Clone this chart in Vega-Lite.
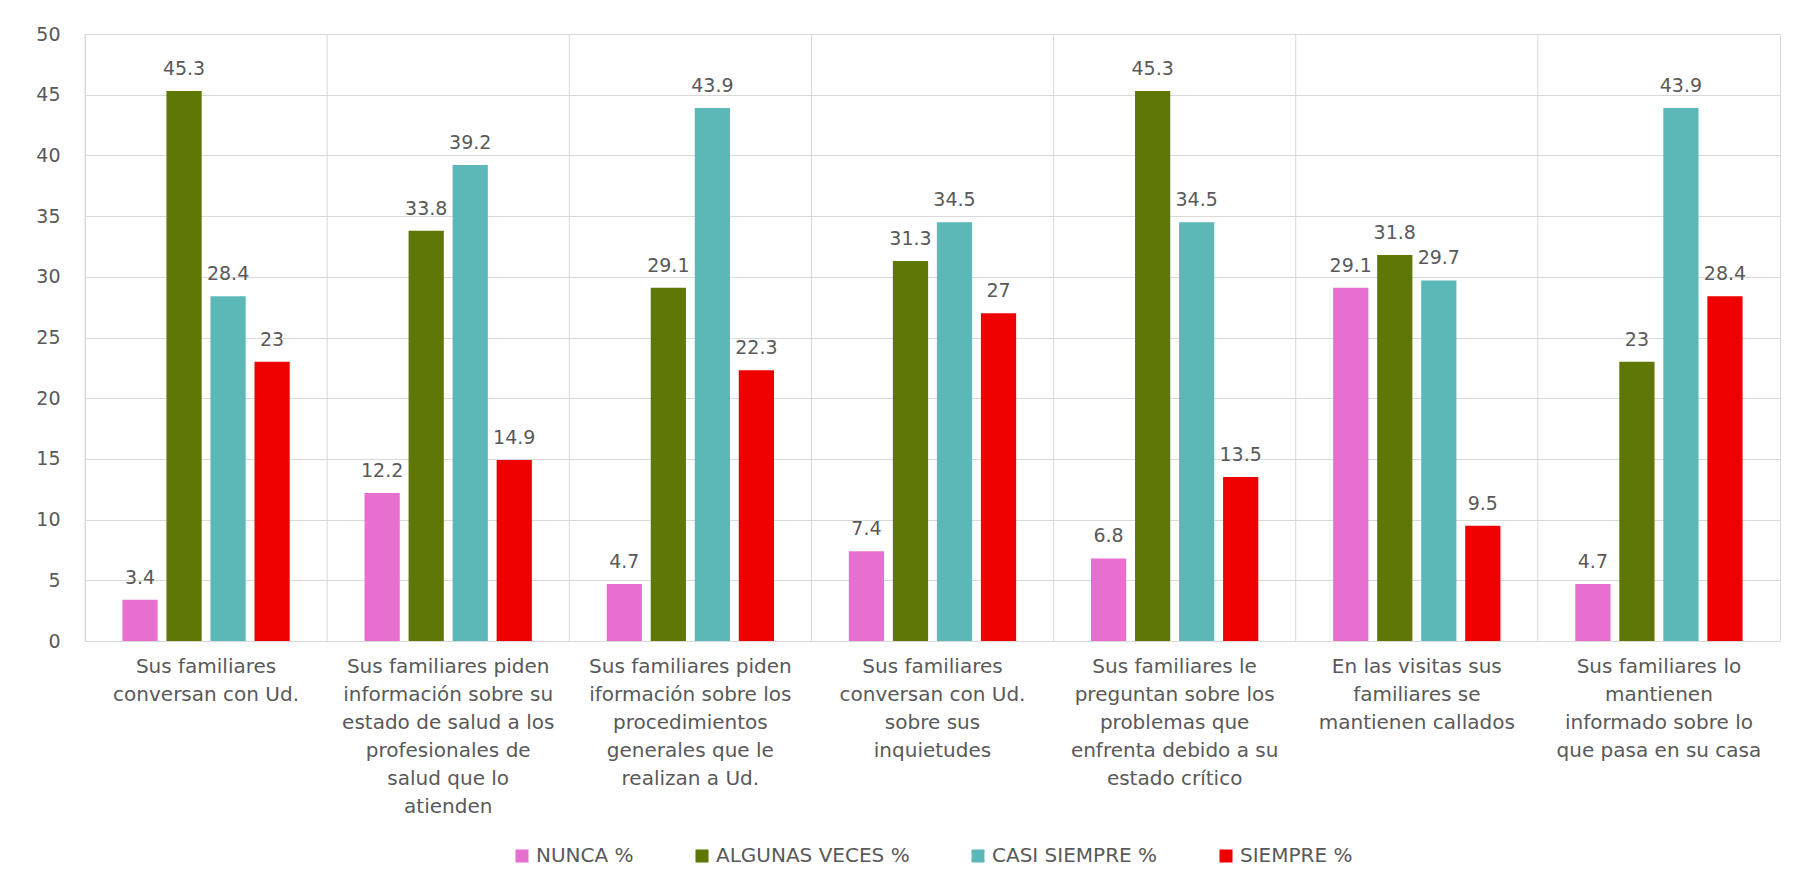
{
  "$schema": "https://vega.github.io/schema/vega-lite/v6.json",
  "width": 1695,
  "height": 607,
  "autosize": {"type": "none"},
  "padding": {"left": 85, "top": 34, "right": 31, "bottom": 247},
  "background": "white",
  "config": {
    "font": "DejaVu Sans",
    "view": {"stroke": "#d9d9d9", "strokeWidth": 1},
    "legend": {"layout": {"bottom": {"anchor": "middle"}}}
  },
  "data": {
    "values": [
      {"pregunta": "Sus familiares|conversan con Ud.", "serie": "NUNCA %", "valor": 3.4},
      {"pregunta": "Sus familiares|conversan con Ud.", "serie": "ALGUNAS VECES %", "valor": 45.3},
      {"pregunta": "Sus familiares|conversan con Ud.", "serie": "CASI SIEMPRE %", "valor": 28.4},
      {"pregunta": "Sus familiares|conversan con Ud.", "serie": "SIEMPRE %", "valor": 23},
      {"pregunta": "Sus familiares piden|información sobre su|estado de salud a los|profesionales de|salud que lo|atienden", "serie": "NUNCA %", "valor": 12.2},
      {"pregunta": "Sus familiares piden|información sobre su|estado de salud a los|profesionales de|salud que lo|atienden", "serie": "ALGUNAS VECES %", "valor": 33.8},
      {"pregunta": "Sus familiares piden|información sobre su|estado de salud a los|profesionales de|salud que lo|atienden", "serie": "CASI SIEMPRE %", "valor": 39.2},
      {"pregunta": "Sus familiares piden|información sobre su|estado de salud a los|profesionales de|salud que lo|atienden", "serie": "SIEMPRE %", "valor": 14.9},
      {"pregunta": "Sus familiares piden|iformación sobre los|procedimientos|generales que le|realizan a Ud.", "serie": "NUNCA %", "valor": 4.7},
      {"pregunta": "Sus familiares piden|iformación sobre los|procedimientos|generales que le|realizan a Ud.", "serie": "ALGUNAS VECES %", "valor": 29.1},
      {"pregunta": "Sus familiares piden|iformación sobre los|procedimientos|generales que le|realizan a Ud.", "serie": "CASI SIEMPRE %", "valor": 43.9},
      {"pregunta": "Sus familiares piden|iformación sobre los|procedimientos|generales que le|realizan a Ud.", "serie": "SIEMPRE %", "valor": 22.3},
      {"pregunta": "Sus familiares|conversan con Ud.|sobre sus|inquietudes", "serie": "NUNCA %", "valor": 7.4},
      {"pregunta": "Sus familiares|conversan con Ud.|sobre sus|inquietudes", "serie": "ALGUNAS VECES %", "valor": 31.3},
      {"pregunta": "Sus familiares|conversan con Ud.|sobre sus|inquietudes", "serie": "CASI SIEMPRE %", "valor": 34.5},
      {"pregunta": "Sus familiares|conversan con Ud.|sobre sus|inquietudes", "serie": "SIEMPRE %", "valor": 27},
      {"pregunta": "Sus familiares le|preguntan sobre los|problemas que|enfrenta debido a su|estado crítico", "serie": "NUNCA %", "valor": 6.8},
      {"pregunta": "Sus familiares le|preguntan sobre los|problemas que|enfrenta debido a su|estado crítico", "serie": "ALGUNAS VECES %", "valor": 45.3},
      {"pregunta": "Sus familiares le|preguntan sobre los|problemas que|enfrenta debido a su|estado crítico", "serie": "CASI SIEMPRE %", "valor": 34.5},
      {"pregunta": "Sus familiares le|preguntan sobre los|problemas que|enfrenta debido a su|estado crítico", "serie": "SIEMPRE %", "valor": 13.5},
      {"pregunta": "En las visitas sus|familiares se|mantienen callados", "serie": "NUNCA %", "valor": 29.1},
      {"pregunta": "En las visitas sus|familiares se|mantienen callados", "serie": "ALGUNAS VECES %", "valor": 31.8},
      {"pregunta": "En las visitas sus|familiares se|mantienen callados", "serie": "CASI SIEMPRE %", "valor": 29.7},
      {"pregunta": "En las visitas sus|familiares se|mantienen callados", "serie": "SIEMPRE %", "valor": 9.5},
      {"pregunta": "Sus familiares lo|mantienen|informado sobre lo|que pasa en su casa", "serie": "NUNCA %", "valor": 4.7},
      {"pregunta": "Sus familiares lo|mantienen|informado sobre lo|que pasa en su casa", "serie": "ALGUNAS VECES %", "valor": 23},
      {"pregunta": "Sus familiares lo|mantienen|informado sobre lo|que pasa en su casa", "serie": "CASI SIEMPRE %", "valor": 43.9},
      {"pregunta": "Sus familiares lo|mantienen|informado sobre lo|que pasa en su casa", "serie": "SIEMPRE %", "valor": 28.4}
    ]
  },
  "encoding": {
    "x": {
      "field": "pregunta",
      "type": "nominal",
      "sort": null,
      "scale": {"paddingInner": 0, "paddingOuter": 0},
      "axis": {
        "title": null,
        "labelAngle": 0,
        "labelExpr": "split(datum.label, '|')",
        "labelFontSize": 20,
        "labelColor": "#595959",
        "labelLineHeight": 28,
        "labelPadding": 15,
        "labelLimit": 0,
        "ticks": false,
        "domain": false,
        "grid": false
      }
    },
    "xOffset": {
      "field": "serie",
      "type": "nominal",
      "sort": ["NUNCA %", "ALGUNAS VECES %", "CASI SIEMPRE %", "SIEMPRE %"],
      "scale": {"paddingInner": 0.2, "paddingOuter": 0.85}
    },
    "y": {
      "field": "valor",
      "type": "quantitative",
      "scale": {"domain": [0, 50], "nice": false},
      "axis": {
        "title": null,
        "values": [0, 5, 10, 15, 20, 25, 30, 35, 40, 45, 50],
        "labelFontSize": 19,
        "labelColor": "#595959",
        "labelPadding": 25,
        "ticks": false,
        "domain": false,
        "gridColor": "#d9d9d9",
        "gridWidth": 1
      }
    }
  },
  "layer": [
    {
      "transform": [{"filter": "datum.serie == 'NUNCA %'"}],
      "mark": {"type": "rule", "color": "#d9d9d9", "strokeWidth": 1},
      "encoding": {
        "x": {"field": "pregunta", "type": "nominal", "sort": null, "bandPosition": 0},
        "xOffset": null,
        "y": null
      }
    },
    {
      "mark": {"type": "bar"},
      "encoding": {
        "color": {
          "field": "serie",
          "type": "nominal",
          "sort": ["NUNCA %", "ALGUNAS VECES %", "CASI SIEMPRE %", "SIEMPRE %"],
          "scale": {
            "domain": ["NUNCA %", "ALGUNAS VECES %", "CASI SIEMPRE %", "SIEMPRE %"],
            "range": ["#E76FCF", "#5E7705", "#5CB8B7", "#EE0000"]
          },
          "legend": {
            "title": null,
            "orient": "bottom",
            "direction": "horizontal",
            "symbolType": "square",
            "symbolSize": 170,
            "symbolStrokeWidth": 0,
            "labelFontSize": 20,
            "labelColor": "#595959",
            "labelLimit": 0,
            "columnPadding": 58,
            "offset": 30
          }
        }
      }
    },
    {
      "mark": {"type": "text", "baseline": "alphabetic", "dy": -16, "fontSize": 19, "color": "#595959"},
      "encoding": {
        "text": {"field": "valor", "type": "quantitative", "format": ".1~f"}
      }
    }
  ]
}
